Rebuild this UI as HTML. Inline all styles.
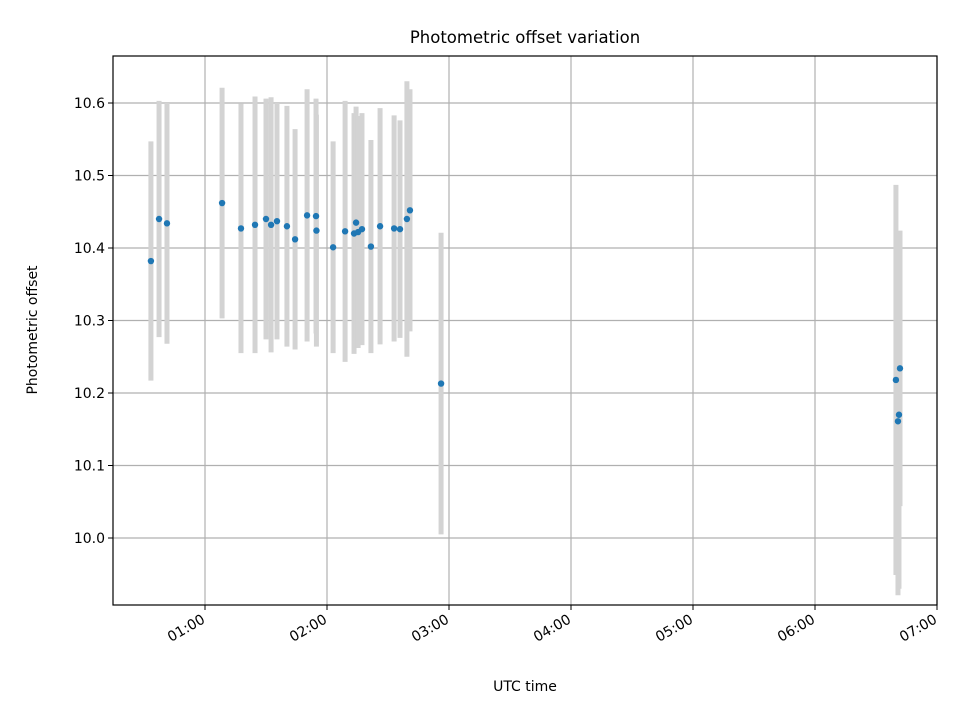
<!DOCTYPE html>
<html><head><meta charset="utf-8"><style>
body{margin:0;background:#fff;}
svg{display:block;font-family:"DejaVu Sans","Liberation Sans",sans-serif;}
</style></head><body>
<svg id="chart" width="960" height="720" xmlns="http://www.w3.org/2000/svg">
<rect width="960" height="720" fill="#fff"/>
<text x="525" y="43" font-size="16.5" text-anchor="middle">Photometric offset variation</text>
<g id="grid"></g>
<g id="errs"></g>
<g id="pts"></g>
<g id="axes"></g>
<rect x="113" y="56" width="824" height="549" fill="none" stroke="#000" stroke-width="1.2"/>
<text x="525" y="691" font-size="14" text-anchor="middle">UTC time</text>
<text x="37" y="330" font-size="14" text-anchor="middle" transform="rotate(-90 37 330)">Photometric offset</text>
</svg>
<script>
// time in minutes after 00:00 UTC
const times = [33.4,37.4,41.3,68.4,77.7,84.6,90.0,92.5,95.4,100.3,104.3,110.2,114.6,114.8,123.0,128.9,133.3,134.3,135.3,137.2,141.6,146.1,153.0,155.9,159.3,160.8,176.1,399.8,401.8,401.3,400.8];
const offsets = [10.382,10.440,10.434,10.462,10.427,10.432,10.440,10.432,10.437,10.430,10.412,10.445,10.444,10.424,10.401,10.423,10.420,10.435,10.422,10.426,10.402,10.430,10.427,10.426,10.440,10.452,10.213,10.218,10.234,10.170,10.161];
const errors = [0.165,0.163,0.166,0.159,0.172,0.177,0.166,0.176,0.163,0.166,0.152,0.174,0.162,0.160,0.146,0.180,0.166,0.160,0.160,0.160,0.147,0.163,0.156,0.150,0.190,0.167,0.208,0.269,0.190,0.240,0.240];
const yTicks = [10.0,10.1,10.2,10.3,10.4,10.5,10.6];
const xTicks = [60,120,180,240,300,360,420];
const xTickLabels = ["01:00","02:00","03:00","04:00","05:00","06:00","07:00"];

const X0=113,X1=937,Y0=56,Y1=605;
const xs = m => 205 + (m-60)*122/60;
const ys = v => 103 + (10.6-v)*725;
const NS="http://www.w3.org/2000/svg";
function mk(tag, attrs, parent){const e=document.createElementNS(NS,tag);for(const k in attrs)e.setAttribute(k,attrs[k]);parent.appendChild(e);return e;}
const grid=document.getElementById('grid'),axes=document.getElementById('axes'),errs=document.getElementById('errs'),pts=document.getElementById('pts');

yTicks.forEach(v=>{
  const y=ys(v);
  const g=mk('line',{x1:X0,x2:X1,y1:y,y2:y,stroke:'#b0b0b0','stroke-width':1.2},grid);
  
  
  mk('line',{x1:X0-5,x2:X0,y1:y,y2:y,stroke:'#000','stroke-width':1},axes);
  const t=mk('text',{x:X0-8,y:y+5,'font-size':14,'text-anchor':'end'},axes);
  t.textContent=v.toFixed(1);
  
  
});
xTicks.forEach((m,i)=>{
  const x=xs(m);
  const g=mk('line',{x1:x,x2:x,y1:Y0,y2:Y1,stroke:'#b0b0b0','stroke-width':1.2},grid);
  
  
  mk('line',{x1:x,x2:x,y1:Y1,y2:Y1+5,stroke:'#000','stroke-width':1},axes);
  const t=mk('text',{x:x+1,y:Y1+17,'font-size':14,'text-anchor':'end',transform:`rotate(-30 ${x+1} ${Y1+17})`},axes);
  t.textContent=xTickLabels[i];
  
  
});
times.forEach((m,i)=>{
  const x=xs(m);
  const b=mk('line',{x1:x,x2:x,y1:ys(offsets[i]+errors[i]),y2:ys(offsets[i]-errors[i]),stroke:'#d3d3d3','stroke-width':5},errs);
  
  
  const c=mk('circle',{cx:x,cy:ys(offsets[i]),r:3.2,fill:'#1f77b4'},pts);
  
  
});
</script>
</body></html>
